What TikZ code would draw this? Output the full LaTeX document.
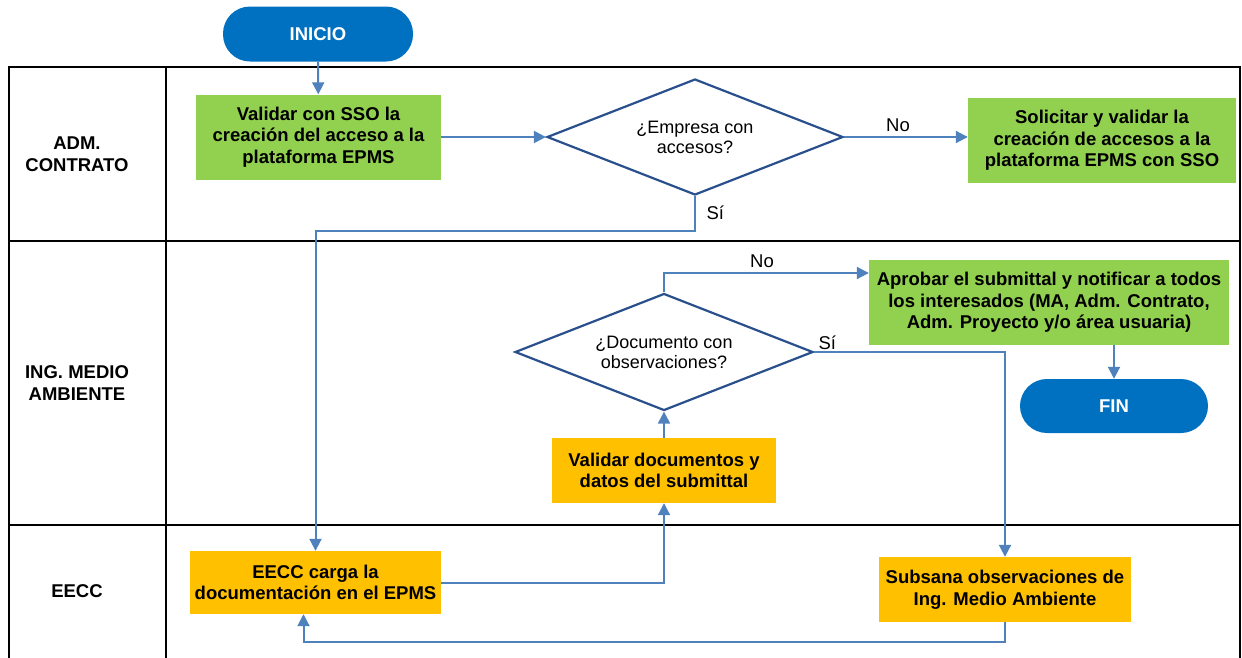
\documentclass[tikz,border=0pt]{standalone}
\usepackage{fontspec}
\setmainfont{Liberation Sans}
\usetikzlibrary{arrows.meta, positioning, shapes.geometric}
\definecolor{GR}{RGB}{146,208,80}
\definecolor{OR}{RGB}{255,192,0}
\definecolor{BL}{RGB}{0,112,192}
\definecolor{LB}{RGB}{79,129,189}
\definecolor{DB}{RGB}{41,80,140}

\begin{document}
\begin{tikzpicture}[x=1pt,y=-1pt,
  txt/.style={font=\fontsize{18.5}{21.5}\selectfont, align=center},
  lane/.style={txt, font=\fontsize{18.5}{22}\selectfont\bfseries},
  proc/.style={txt, font=\fontsize{18.5}{21.5}\selectfont\bfseries, inner sep=0pt},
  green/.style={proc, fill=GR},
  orange/.style={proc, fill=OR},
  term/.style={txt, font=\fontsize{18.5}{21.5}\selectfont\bfseries, text=white,
    fill=BL, rounded corners=27pt, inner sep=0pt},
  decis/.style={diamond, draw=DB, line width=2.2pt, fill=white, inner sep=0pt,
    shape aspect=2.5, txt, font=\fontsize{18}{20}\selectfont},
  flow/.style={LB, line width=2pt, -{Triangle[length=12pt,width=12pt]}}]
\useasboundingbox (0,0) rectangle (1242,657);

% swimlanes
\draw[line width=2.2pt] (9,660) |- (1240,67) -- (1240,660);
\draw[line width=2.2pt] (166,67) -- (166,660);
\draw[line width=2.2pt] (9,241) -- (1240,241);
\draw[line width=2.2pt] (9,525) -- (1240,525);
\node[lane] (admlane) at (77,154) {ADM.\\CONTRATO};
\node[lane] (inglane) at (77,383) {ING. MEDIO\\AMBIENTE};
\node[lane] (eecclane) at (77,591) {EECC};

\node[term, minimum width=190pt, minimum height=55pt] (inicio) at (318,34) {INICIO};
\node[green, minimum width=245pt, minimum height=85pt] (valsso) at (318.5,137)
  {Validar con SSO la\\creación del acceso a la\\plataforma EPMS};
\node[decis, minimum width=296pt, minimum height=116pt] (empresa) at (695,137)
  {¿Empresa con\\accesos?};
\node[green, minimum width=268pt, minimum height=85pt] (solicitar) at (1102,140.5)
  {Solicitar y validar la\\creación de accesos a la\\plataforma EPMS con SSO};

\node[decis, minimum width=298pt, minimum height=117pt] (documento) at (664,352)
  {¿Documento con\\observaciones?};
\node[green, minimum width=360pt, minimum height=85pt] (aprobar) at (1049,302.5)
  {Aprobar el submittal y notificar a todos\\los interesados (MA, Adm. Contrato,\\Adm. Proyecto y/o área usuaria)};
\node[term, minimum width=188pt, minimum height=54pt] (fin) at (1114,406) {FIN};
\node[orange, minimum width=224pt, minimum height=65pt] (validar) at (664,470.5)
  {Validar documentos y\\datos del submittal};

\node[orange, minimum width=251pt, minimum height=63pt] (carga) at (315.5,582.5)
  {EECC carga la\\documentación en el EPMS};
\node[orange, minimum width=252pt, minimum height=65pt] (subsana) at (1005,589.5)
  {Subsana observaciones de\\Ing. Medio Ambiente};

\node[txt] (no1) at (898,125) {No};
\node[txt, anchor=west] (si1) at (703,213) {Sí};
\node[txt] (no2) at (762,261) {No};
\node[txt, anchor=west] (si2) at (815,343) {Sí};

\draw[flow] (inicio) -- (valsso);
\draw[flow] (valsso) -- (empresa);
\draw[flow] (empresa.east) -- (empresa.east -| solicitar.west);
\draw[flow] (empresa.south) -- ++(0,35) -| (carga.north);
\draw[flow] (carga.east) -| (validar.south);
\draw[flow] (validar) -- (documento);
\draw[flow] (documento.north) |- ([yshift=29.5pt]aprobar.west);
\draw[flow] (fin.north |- aprobar.south) -- (fin.north);
\draw[flow] (documento.east) -| (subsana.north);
\draw[flow] (subsana.south) -- ++(0,20) -| ([xshift=-12pt]carga.south);
\end{tikzpicture}
\end{document}
